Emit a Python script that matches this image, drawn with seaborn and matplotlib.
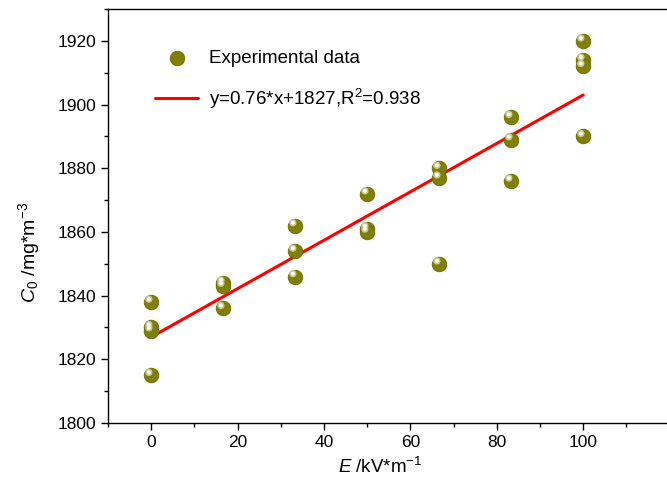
import numpy as np
import pandas as pd
import matplotlib
matplotlib.use("Agg")
import matplotlib.pyplot as plt
import seaborn as sns
from matplotlib.ticker import MultipleLocator

# ---- data ----
E_levels = [0, 16.67, 33.33, 50, 66.67, 83.33, 100]
c0_at_0 = [1838, 1830, 1829, 1815]
c0_at_16 = [1844, 1843, 1836]
c0_at_33 = [1862, 1854, 1846]
c0_at_50 = [1872, 1861, 1860]
c0_at_66 = [1880, 1877, 1850]
c0_at_83 = [1896, 1889, 1876]
c0_at_100 = [1920, 1914, 1912, 1890]
fit_slope = 0.76
fit_intercept = 1827
fit_x = [0, 100]
fit_label = "y=0.76*x+1827,R$^2$=0.938"
scatter_label = "Experimental data"

groups = [c0_at_0, c0_at_16, c0_at_33, c0_at_50, c0_at_66, c0_at_83, c0_at_100]
xs, ys = [], []
for e, vals in zip(E_levels, groups):
    xs += [e] * len(vals)
    ys += vals
df = pd.DataFrame({"E": xs, "C0": ys})
fit_df = pd.DataFrame({"E": fit_x, "C0": [fit_slope * x + fit_intercept for x in fit_x]})

sns.set_style("ticks")
plt.rcParams["font.family"] = ["Liberation Sans", "DejaVu Sans"]
plt.rcParams["mathtext.fontset"] = "custom"
plt.rcParams["mathtext.rm"] = "Liberation Sans"
plt.rcParams["mathtext.it"] = "Liberation Sans:italic"
plt.rcParams["text.color"] = "black"
plt.rcParams["axes.labelcolor"] = "black"
plt.rcParams["xtick.color"] = "black"
plt.rcParams["ytick.color"] = "black"

fig = plt.figure(figsize=(6.67, 4.84), dpi=100)
ax = fig.add_axes([0.162, 0.126, 0.84, 0.8554])

# shaded sphere markers: base + highlight
sns.scatterplot(data=df, x="E", y="C0", ax=ax, s=110, color="#7f7f00",
                edgecolor="#6b6b00", linewidth=0.6, zorder=3, label=scatter_label)
hl_offset = pd.DataFrame({"E": df["E"] - 0.55, "C0": df["C0"] + 0.9})
sns.scatterplot(data=hl_offset, x="E", y="C0", ax=ax, s=28, color="#c8c890",
                edgecolor="none", zorder=4, legend=False)
sns.scatterplot(data=hl_offset, x="E", y="C0", ax=ax, s=8, color="#ffffff",
                edgecolor="none", zorder=5, legend=False)
sns.lineplot(data=fit_df, x="E", y="C0", ax=ax, color="#ff0000", linewidth=2.2,
             zorder=2, label=fit_label)

ax.set_xlim(-10, 119.7)
ax.set_ylim(1800, 1930)
ax.xaxis.set_major_locator(MultipleLocator(20))
ax.xaxis.set_minor_locator(MultipleLocator(10))
ax.yaxis.set_major_locator(MultipleLocator(20))
ax.yaxis.set_minor_locator(MultipleLocator(10))
ax.tick_params(which="major", direction="out", length=5, width=1.0, labelsize=12.5)
ax.tick_params(which="minor", direction="out", length=3, width=1.0)
for side in ["left", "bottom", "top", "right"]:
    ax.spines[side].set_linewidth(1.0)
    ax.spines[side].set_color("black")
ax.spines["right"].set_visible(False)

ax.set_xlabel(r"$\mathit{E}$ /kV*m$^{\mathregular{-1}}$", fontsize=13.5, va="top")
ax.set_ylabel(r"$\mathit{C_0}$ /mg*m$^{\mathregular{-3}}$", fontsize=14)
ax.xaxis.set_label_coords(0.486, -0.082)
ax.yaxis.set_label_coords(-0.118, 0.413)

leg = ax.legend(loc="upper left", bbox_to_anchor=(0.084, 0.901), frameon=False,
                fontsize=13.5, handlelength=2.3, handletextpad=0.55, labelspacing=1.05,
                borderaxespad=0.0, borderpad=0.0)

fig.savefig("out.png", dpi=100)
